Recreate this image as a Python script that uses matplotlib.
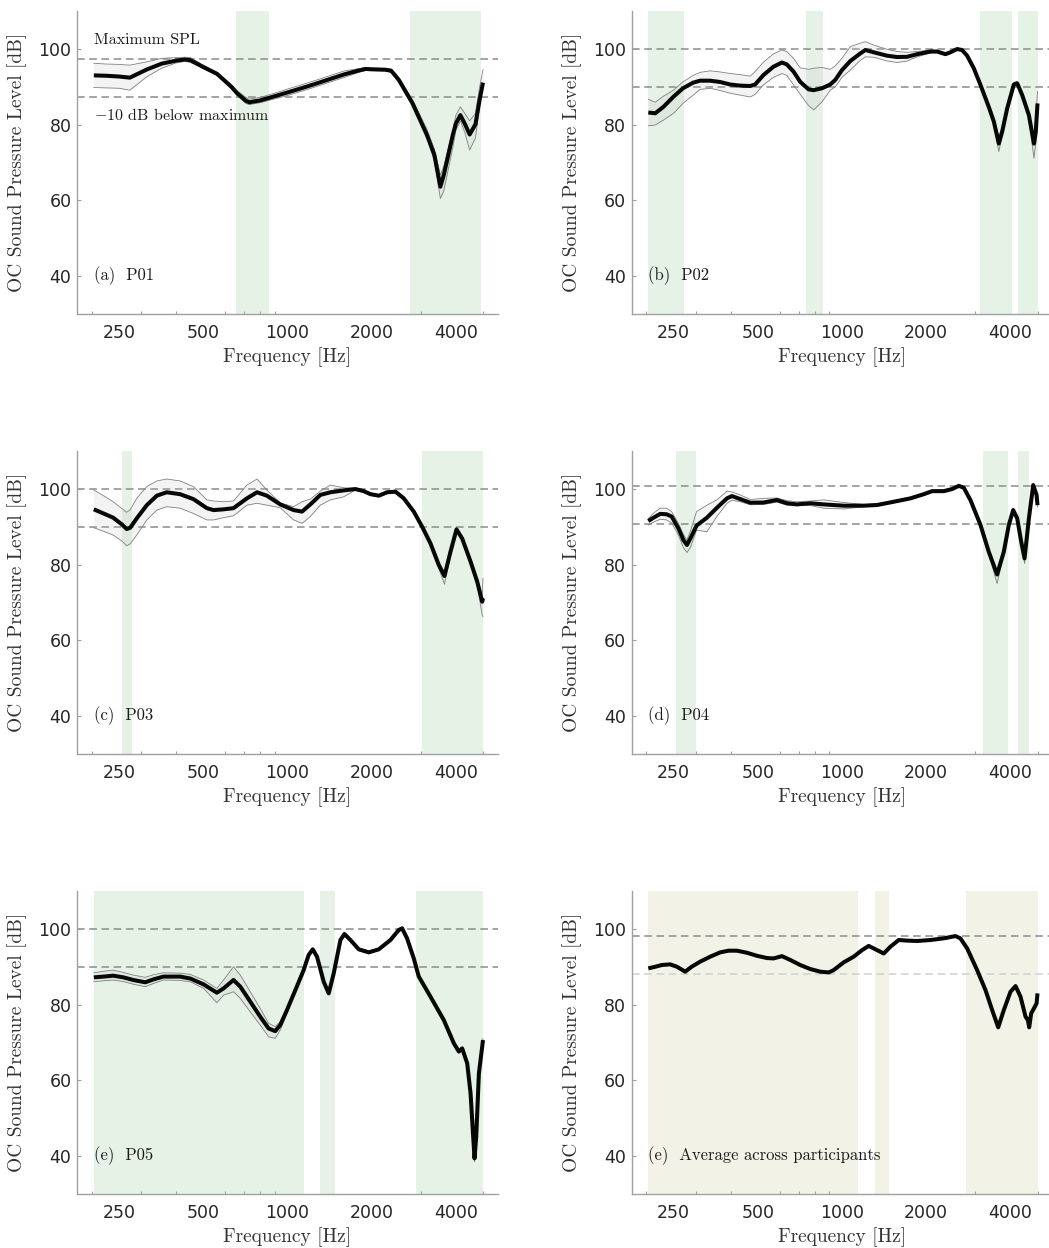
import numpy as np
import matplotlib
matplotlib.use('Agg')
import matplotlib.pyplot as plt
from matplotlib.ticker import FixedLocator, FixedFormatter, LogLocator, NullFormatter

plt.rcParams['mathtext.fontset'] = 'cm'
plt.rcParams['axes.unicode_minus'] = False

# ---------------- data ----------------
# (a) P01
f_a = [203, 225, 250, 273, 315, 355, 400, 430, 450, 500, 560, 630, 660, 710, 730, 800, 900, 1000, 1120, 1250,
       1400, 1600, 1800, 1900, 2000, 2240, 2350, 2500, 2800, 3150, 3350, 3520, 3620, 3900, 4000, 4150, 4300,
       4480, 4700, 4850, 5000]
mean_a = [93.0, 92.9, 92.7, 92.4, 94.6, 96.1, 96.9, 97.2, 97.0, 95.2, 93.4, 90.0, 88.3, 86.3, 85.9, 86.4, 87.5,
          88.5, 89.6, 90.7, 91.9, 93.3, 94.3, 94.7, 94.6, 94.5, 94.2, 91.8, 85.6, 77.3, 72.0, 63.6, 66.7, 77.3,
          80.3, 82.5, 80.3, 77.4, 80.1, 86.1, 91.1]
lo_a = [89.8, 89.7, 89.6, 89.1, 92.7, 94.9, 96.3, 96.7, 96.4, 94.9, 93.0, 89.5, 87.7, 85.6, 85.3, 85.8, 86.8,
        87.7, 88.8, 89.9, 91.1, 92.5, 93.8, 94.3, 94.3, 94.2, 93.8, 91.2, 85.0, 76.5, 70.5, 60.5, 62.5, 74.0,
        78.5, 81.0, 78.0, 73.3, 76.5, 84.5, 90.0]
hi_a = [96.2, 96.0, 95.9, 95.7, 96.6, 97.5, 97.7, 97.8, 97.7, 95.7, 93.8, 90.5, 89.0, 87.2, 86.7, 87.2, 88.3,
        89.4, 90.5, 91.6, 92.8, 94.2, 94.8, 95.0, 94.9, 94.8, 94.7, 92.4, 86.5, 78.8, 73.5, 66.7, 69.0, 78.5,
        82.5, 84.7, 83.0, 81.0, 83.0, 89.5, 94.5]
spans_a = [(655, 856), (2740, 4930)]
max_a = 97.3

# (b) P02
f_b = [203, 215, 230, 250, 270, 294, 311, 338, 367, 398, 432, 470, 489, 524, 569, 610, 635, 671, 709, 760, 792,
       848, 908, 946, 1000, 1071, 1163, 1212, 1298, 1449, 1573, 1709, 1856, 2071, 2187, 2343, 2441, 2580, 2687,
       2801, 2959, 3126, 3347, 3490, 3636, 3737, 3896, 4115, 4231, 4408, 4658, 4855, 4930, 5000]
mean_b = [83.2, 83.0, 84.7, 87.4, 89.6, 91.1, 91.6, 91.6, 91.25, 90.6, 90.3, 90.2, 90.6, 93.1, 95.3, 96.4, 95.9,
          94.0, 91.3, 89.3, 89.1, 89.6, 90.6, 91.8, 94.4, 96.8, 98.8, 99.7, 99.1, 98.2, 97.85, 97.9, 98.6, 99.3,
          99.3, 98.6, 99.1, 99.96, 99.7, 98.2, 94.9, 90.5, 84.7, 80.8, 75.0, 78.1, 84.3, 90.6, 90.9, 87.8, 82.5,
          75.0, 78.1, 85.6]
lo_b = [79.7, 79.9, 81.2, 83.0, 85.6, 87.8, 89.3, 89.6, 89.0, 88.3, 87.8, 87.3, 88.0, 90.5, 92.5, 93.5, 93.0,
        90.5, 88.0, 85.0, 83.9, 86.0, 89.1, 90.0, 92.5, 94.4, 97.0, 97.9, 97.8, 96.8, 96.4, 96.8, 97.9, 98.9,
        99.0, 98.3, 98.8, 99.7, 99.4, 97.9, 94.6, 90.1, 84.2, 80.0, 72.9, 77.0, 84.0, 90.3, 90.5, 87.4, 81.8,
        71.1, 75.0, 83.0]
hi_b = [86.7, 85.9, 87.5, 89.1, 91.3, 93.0, 93.8, 94.2, 93.9, 93.5, 93.2, 92.8, 94.0, 96.5, 98.7, 99.7, 99.3,
        97.5, 95.0, 94.6, 94.9, 95.1, 94.6, 95.5, 97.5, 100.6, 101.5, 101.9, 101.0, 99.9, 99.3, 99.1, 99.3, 99.7,
        99.6, 98.9, 99.4, 100.2, 100.0, 98.5, 95.2, 90.9, 85.2, 81.6, 77.0, 79.0, 84.8, 91.2, 91.3, 88.2, 83.2,
        77.3, 82.0, 88.7]
spans_b = [(203, 273), (745, 855), (3110, 4060), (4251, 5000)]
max_b = 100.0

# (c) P03
f_c = [203, 220, 238, 256, 266, 274, 289, 314, 341, 370, 413, 461, 515, 544, 591, 641, 716, 778, 844, 942, 1052,
       1127, 1207, 1310, 1423, 1588, 1748, 1873, 1980, 2120, 2271, 2432, 2604, 2828, 3030, 3245, 3475, 3641, 3826,
       4020, 4212, 4513, 4767, 4967, 5000]
mean_c = [94.6, 93.5, 92.4, 90.6, 89.4, 89.75, 92.2, 95.7, 98.2, 99.1, 98.6, 97.3, 94.9, 94.4, 94.6, 94.9, 97.5,
          99.1, 98.2, 95.9, 94.4, 94.0, 95.9, 98.4, 99.1, 99.6, 99.96, 99.4, 98.6, 98.2, 99.1, 99.26, 97.5, 94.0,
          90.0, 85.6, 79.9, 77.0, 83.4, 89.3, 86.9, 80.8, 75.5, 70.2, 71.1]
lo_c = [89.75, 88.8, 87.8, 86.2, 85.0, 85.5, 87.8, 91.8, 94.4, 95.3, 94.9, 93.5, 91.8, 91.8, 92.4, 92.9, 95.7,
        96.2, 95.7, 95.0, 91.8, 90.9, 92.7, 95.7, 97.1, 97.9, 99.7, 99.1, 98.3, 97.9, 98.8, 98.9, 97.1, 93.5,
        89.4, 85.0, 79.0, 74.8, 82.9, 88.9, 86.4, 80.2, 74.5, 66.7, 66.2]
hi_c = [99.7, 98.2, 96.6, 94.8, 93.8, 94.5, 97.5, 100.6, 102.1, 102.6, 102.1, 100.6, 97.1, 96.8, 96.6, 96.8,
        101.0, 102.6, 99.7, 96.3, 95.3, 96.6, 97.3, 99.4, 101.0, 100.3, 100.1, 99.7, 98.9, 98.5, 99.4, 99.6,
        97.9, 94.4, 90.5, 86.2, 80.6, 77.9, 83.9, 89.7, 87.4, 81.4, 76.5, 72.0, 76.4]
spans_c = [(256, 277), (3035, 5000)]
max_c = 99.9

# (d) P04
f_d = [203, 212, 224, 236, 246, 260, 271, 279, 287, 302, 329, 357, 388, 404, 433, 470, 524, 585, 635, 690, 770,
       860, 1014, 1196, 1334, 1531, 1757, 1961, 2100, 2312, 2476, 2616, 2725, 2878, 3126, 3347, 3585, 3789, 3949,
       4093, 4231, 4372, 4494, 4658, 4826, 4962, 5000]
mean_d = [91.5, 92.4, 93.4, 93.3, 92.7, 89.6, 86.5, 85.2, 86.9, 90.3, 92.4, 95.0, 97.5, 98.1, 97.3, 96.35, 96.4,
          97.06, 96.2, 95.9, 96.2, 95.9, 95.56, 95.56, 95.74, 96.6, 97.5, 98.6, 99.4, 99.4, 99.96, 100.8, 100.3,
          97.06, 90.5, 83.4, 77.4, 83.4, 90.5, 94.4, 92.2, 86.05, 81.65, 92.2, 101.0, 98.4, 95.7]
lo_d = [90.5, 91.2, 92.0, 91.8, 91.0, 87.8, 84.5, 83.2, 84.5, 89.1, 88.7, 92.7, 96.2, 97.0, 96.6, 95.8, 95.9,
        96.5, 95.7, 95.6, 95.6, 94.9, 94.7, 95.3, 95.5, 96.3, 97.2, 98.3, 99.1, 99.1, 99.7, 100.5, 100.0, 96.7,
        90.0, 82.8, 75.0, 82.8, 90.0, 94.0, 91.8, 85.5, 80.3, 91.7, 100.5, 97.9, 95.2]
hi_d = [92.2, 93.6, 94.9, 94.9, 94.0, 90.9, 88.0, 86.5, 88.8, 94.0, 95.7, 97.1, 99.4, 99.2, 98.4, 97.2, 97.5,
        97.6, 96.9, 96.6, 96.8, 97.1, 96.4, 95.9, 96.0, 96.9, 97.8, 98.9, 99.7, 99.7, 100.2, 101.1, 100.6, 97.4,
        91.0, 84.0, 78.1, 84.0, 91.0, 94.8, 92.6, 86.6, 82.5, 92.7, 101.5, 98.9, 96.2]
spans_d = [(256, 300), (3187, 3926), (4262, 4658)]
max_d = 100.8

# (e) P05
f_e = [203, 220, 238, 259, 281, 310, 332, 360, 413, 449, 501, 559, 591, 641, 678, 736, 799, 856, 904, 942, 996,
       1067, 1142, 1190, 1231, 1275, 1347, 1404, 1463, 1546, 1598, 1679, 1798, 1952, 2120, 2333, 2499, 2569,
       2676, 2828, 2947, 3245, 3622, 3932, 4098, 4212, 4390, 4513, 4612, 4663, 4728, 4834, 5000]
mean_e = [87.2, 87.4, 87.64, 87.2, 86.5, 85.9, 86.67, 87.4, 87.4, 86.9, 85.35, 83.15, 84.3, 86.5, 84.75, 80.8,
          76.8, 73.7, 73.0, 74.6, 78.6, 83.85, 89.1, 93.1, 94.6, 92.66, 86.05, 82.97, 88.26, 97.06, 98.64, 97.06,
          94.6, 93.8, 94.6, 97.06, 99.7, 100.14, 97.5, 92.2, 87.4, 82.1, 75.9, 69.8, 67.6, 68.45, 64.5, 56.6,
          45.1, 39.4, 45.1, 61.85, 70.65]
lo_e = [86.05, 86.3, 86.5, 86.1, 85.4, 84.75, 85.6, 86.5, 86.4, 86.05, 84.3, 80.5, 82.5, 83.4, 81.65, 78.1, 74.6,
        71.5, 71.1, 73.3, 77.7, 83.4, 88.8, 92.8, 94.3, 92.4, 85.7, 82.6, 87.9, 96.7, 98.3, 96.7, 94.3, 93.4,
        94.3, 96.7, 99.4, 99.8, 97.2, 91.9, 87.1, 81.8, 75.6, 69.5, 67.3, 68.1, 64.2, 56.3, 44.8, 38.5, 44.8,
        61.5, 70.3]
hi_e = [88.4, 88.8, 89.1, 88.5, 87.8, 87.2, 87.9, 88.4, 88.3, 88.0, 86.5, 84.3, 86.5, 90.0, 87.8, 83.4, 79.0,
        75.05, 74.2, 75.5, 79.0, 84.3, 89.4, 93.4, 94.9, 93.0, 86.4, 83.3, 88.6, 97.4, 99.0, 97.4, 94.9, 94.2,
        94.9, 97.4, 100.0, 100.5, 97.8, 92.5, 87.7, 82.4, 76.2, 70.1, 67.9, 68.8, 64.8, 56.9, 45.4, 40.0, 45.4,
        62.2, 71.0]
spans_e = [(203, 1141), (1310, 1480), (2885, 5000)]
max_e = 100.0

# (f) average across participants
f_f = [203, 215, 227, 243, 257, 275, 290, 311, 338, 367, 393, 421, 457, 496, 539, 569, 610, 653, 709, 770, 836,
       896, 933, 1014, 1101, 1180, 1246, 1334, 1410, 1490, 1595, 1709, 1856, 2071, 2312, 2544, 2650, 2801, 3042,
       3258, 3442, 3618, 3789, 4003, 4173, 4347, 4532, 4618, 4669, 4747, 4855, 4962, 5000]
mean_f = [89.58, 90.0, 90.46, 90.63, 90.0, 88.7, 90.0, 91.34, 92.66, 93.8, 94.24, 94.24, 93.7, 92.9, 92.3, 92.2,
          92.8, 91.8, 90.46, 89.4, 88.7, 88.5, 89.1, 91.16, 92.66, 94.4, 95.5, 94.4, 93.5, 95.3, 97.06, 96.9, 96.8,
          97.06, 97.5, 98.1, 97.5, 94.86, 89.1, 83.85, 78.57, 74.0, 78.57, 83.4, 84.9, 82.1, 76.8, 75.93, 74.0,
          77.7, 79.0, 80.33, 82.97]
spans_f = [(203, 1141), (1316, 1476), (2770, 5000)]
max_f = 98.0

panel_labels = ['(a)  P01', '(b)  P02', '(c)  P03', '(d)  P04', '(e)  P05', '(e)  Average across participants']
xtick_vals = [250, 500, 1000, 2000, 4000]
xtick_labels = ['250', '500', '1000', '2000', '4000']
ytick_vals = [40, 60, 80, 100]

SERIF = 'cmr10'
GREEN = '#e6f2e6'
OLIVE = '#f2f2e6'

# ---------------- layout (pixels of the 1049x1248 canvas) ----------------
W, H = 1049, 1248
fig = plt.figure(figsize=(W / 100, H / 100), dpi=100)

lefts = [77, 631.5]
tops = [11, 451, 891]
aw, ah = 421, 303


def make_ax(row, col):
    return fig.add_axes([lefts[col] / W, (H - tops[row] - ah) / H, aw / W, ah / H])


def style_ax(ax):
    ax.set_xscale('log')
    ax.set_xlim(250 / np.sqrt(2), 4000 * np.sqrt(2))
    ax.set_ylim(30, 110)
    ax.xaxis.set_major_locator(FixedLocator(xtick_vals))
    ax.xaxis.set_major_formatter(FixedFormatter(xtick_labels))
    ax.xaxis.set_minor_locator(LogLocator(base=10, subs=np.arange(2, 10)))
    ax.xaxis.set_minor_formatter(NullFormatter())
    ax.set_yticks(ytick_vals)
    for s in ['top', 'right']:
        ax.spines[s].set_visible(False)
    for s in ['left', 'bottom']:
        ax.spines[s].set_color('#a0a0a0')
        ax.spines[s].set_linewidth(1.0)
    ax.tick_params(axis='x', which='major', length=0, pad=7, labelsize=12.5, labelcolor='#262626')
    ax.tick_params(axis='x', which='minor', direction='in', length=2.5, width=0.8, color='#a0a0a0')
    ax.tick_params(axis='y', which='major', direction='in', length=3, width=0.8, color='#a0a0a0',
                   pad=4, labelsize=12.5, labelcolor='#262626')
    ax.set_xlabel('Frequency [Hz]', family=SERIF, fontsize=14, color='#333333', labelpad=4)
    ax.set_ylabel('OC Sound Pressure Level [dB]', family=SERIF, fontsize=14, color='#333333', labelpad=8)


def draw_panel(ax, f, mean, lo, hi, spans, top, label, span_color=GREEN, low_color='#8c8c8c'):
    style_ax(ax)
    for a, b in spans:
        ax.axvspan(a, b, color=span_color, lw=0, zorder=0)
    ax.axhline(top, color='#8c8c8c', lw=1.1, dashes=(5, 3), zorder=1)
    ax.axhline(top - 10, color=low_color, lw=1.1, dashes=(5, 3), zorder=1)
    if lo is not None:
        ax.fill_between(f, lo, hi, color='#bdbdbd', alpha=0.18, lw=0, zorder=2)
        ax.plot(f, lo, color='#808080', lw=0.6, zorder=3, solid_joinstyle='round')
        ax.plot(f, hi, color='#808080', lw=0.6, zorder=3, solid_joinstyle='round')
    ax.plot(f, mean, color='#050805', lw=2.9, solid_capstyle='butt', solid_joinstyle='round', zorder=4)
    ax.text(203, 40, label, family=SERIF, fontsize=12, va='center', ha='left', color='#1a1a1a')


ax_a = make_ax(0, 0)
draw_panel(ax_a, f_a, mean_a, lo_a, hi_a, spans_a, max_a, panel_labels[0])
ax_a.text(203, max_a + 5, 'Maximum SPL', family=SERIF, fontsize=11.5, va='center', ha='left', color='#1a1a1a')
ax_a.text(203, max_a - 14.8, r'$-10$ dB below maximum', family=SERIF, fontsize=11.5, va='center', ha='left',
          color='#1a1a1a')

draw_panel(make_ax(0, 1), f_b, mean_b, lo_b, hi_b, spans_b, max_b, panel_labels[1])
draw_panel(make_ax(1, 0), f_c, mean_c, lo_c, hi_c, spans_c, max_c, panel_labels[2])
draw_panel(make_ax(1, 1), f_d, mean_d, lo_d, hi_d, spans_d, max_d, panel_labels[3])
draw_panel(make_ax(2, 0), f_e, mean_e, lo_e, hi_e, spans_e, max_e, panel_labels[4])
draw_panel(make_ax(2, 1), f_f, mean_f, None, None, spans_f, max_f, panel_labels[5],
           span_color=OLIVE, low_color='#d0d0d0')

fig.savefig('out.png', dpi=100)
